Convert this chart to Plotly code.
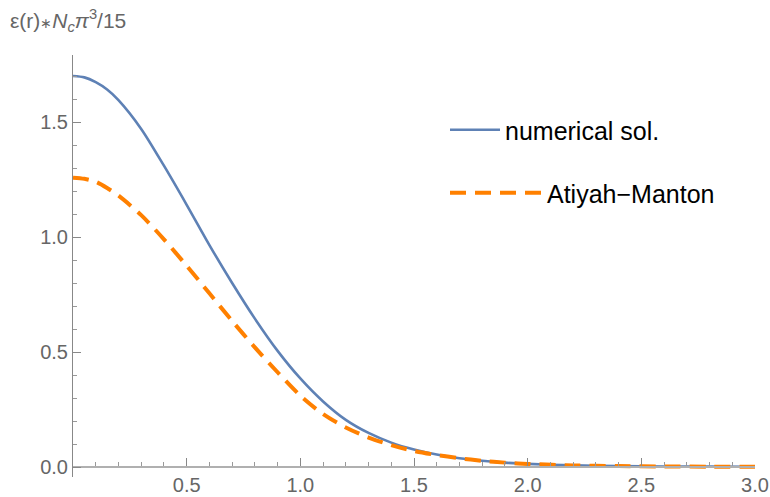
import plotly.graph_objects as go

# r values and energy density
r_num = [0.0, 0.05, 0.1, 0.15, 0.2, 0.3, 0.4, 0.5, 0.6, 0.7, 0.8, 0.9, 1.0, 1.1, 1.2, 1.3, 1.4, 1.5, 1.6, 1.7, 1.8, 1.9, 2.0, 2.2, 2.4, 2.6, 2.8, 3.0]
e_num = [1.70, 1.694, 1.673, 1.641, 1.595, 1.47, 1.31, 1.14, 0.965, 0.80, 0.645, 0.505, 0.385, 0.285, 0.205, 0.148, 0.106, 0.076, 0.054, 0.038, 0.027, 0.019, 0.0135, 0.007, 0.004, 0.0025, 0.0015, 0.001]

r_am = [0.0, 0.05, 0.1, 0.15, 0.2, 0.3, 0.4, 0.5, 0.6, 0.7, 0.8, 0.9, 1.0, 1.1, 1.2, 1.3, 1.4, 1.5, 1.6, 1.7, 1.8, 1.9, 2.0, 2.2, 2.4, 2.6, 2.8, 3.0]
e_am = [1.258, 1.253, 1.24, 1.213, 1.18, 1.095, 0.99, 0.875, 0.755, 0.635, 0.52, 0.412, 0.31, 0.23, 0.172, 0.128, 0.095, 0.07, 0.052, 0.038, 0.027, 0.019, 0.0135, 0.007, 0.004, 0.0025, 0.0015, 0.001]

x_ticks = [0.5, 1.0, 1.5, 2.0, 2.5, 3.0]
y_ticks = [0.0, 0.5, 1.0, 1.5]

BLUE = "#5E81B5"
ORANGE = "#FF8000"
TICKCOL = "#666666"

fig = go.Figure()
fig.add_trace(go.Scatter(x=r_num, y=e_num, mode="lines", name="numerical sol.",
                         line=dict(color=BLUE, width=2.6, shape="spline", smoothing=0.8),
                         legend="legend", showlegend=True))
fig.add_trace(go.Scatter(x=r_am, y=e_am, mode="lines", name="Atiyah\u2212Manton",
                         line=dict(color=ORANGE, width=4, dash="16px,9px", shape="spline", smoothing=0.8),
                         legend="legend2", showlegend=True))

H_PLOT = 497 - 55 - 20
W_PLOT = 770 - 73 - 15
fig.update_layout(
    width=770, height=497,
    margin=dict(l=73, r=15, t=55, b=20, autoexpand=False),
    plot_bgcolor="white", paper_bgcolor="white",
    showlegend=True,
    font=dict(family="Liberation Sans, Arial, sans-serif", color=TICKCOL),
    xaxis=dict(range=[0, 3], tickvals=x_ticks, tickformat=".1f",
               ticks="inside", ticklen=8, tickwidth=1, tickcolor="#888888",
               minor=dict(ticks="inside", ticklen=4, dtick=0.1, tick0=0, tickcolor="#999999", showgrid=False),
               showline=True, linecolor="#b0b0b0", linewidth=2,
               showgrid=False, zeroline=False,
               anchor="free", position=10 / H_PLOT,
               tickfont=dict(size=20, color=TICKCOL), automargin=False),
    yaxis=dict(range=[-10 / 230, 412 / 230], tickvals=y_ticks, tickformat=".1f",
               ticks="inside", ticklen=8, tickwidth=1, tickcolor="#888888",
               minor=dict(ticks="inside", ticklen=4, dtick=0.1, tick0=0, tickcolor="#999999", showgrid=False),
               showline=True, linecolor="#888888", linewidth=1,
               showgrid=False, zeroline=False,
               tickfont=dict(size=20, color=TICKCOL), automargin=False),
    legend=dict(x=(445 - 73) / W_PLOT, y=(497 - 20 - 130) / H_PLOT, xanchor="left", yanchor="middle",
                font=dict(size=25, color="black"), bgcolor="rgba(0,0,0,0)", itemwidth=50),
    legend2=dict(x=(445 - 73) / W_PLOT, y=(497 - 20 - 193) / H_PLOT, xanchor="left", yanchor="middle",
                 font=dict(size=25, color="black"), bgcolor="rgba(0,0,0,0)", itemwidth=92),
    annotations=[dict(text="\u03b5(r)<span style='font-size:14px'>\u2217</span><i>N</i><sub><i>c</i></sub><i>\u03c0</i><sup>3</sup>/15",
                      xref="paper", yref="paper", x=-65 / W_PLOT, y=1 + 35 / H_PLOT,
                      xanchor="left", yanchor="middle", showarrow=False,
                      font=dict(size=21, color=TICKCOL))],
)

fig.write_html("out.html", config={"displayModeBar": False},
               post_script="document.body.style.margin='0px';")
